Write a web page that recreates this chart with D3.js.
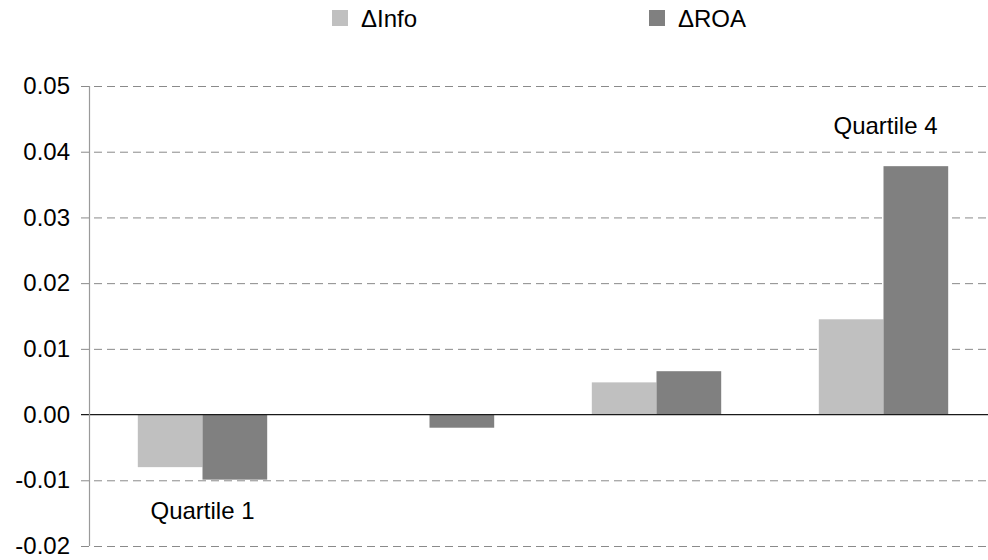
<!DOCTYPE html>
<html>
<head>
<meta charset="utf-8">
<script src="https://cdn.jsdelivr.net/npm/d3@7"></script>
<style>
  html, body { margin: 0; padding: 0; background: #fff; }
  svg { display: block; font-family: "Liberation Sans", Arial, sans-serif; }
</style>
</head>
<body>
<svg id="chart" width="988" height="560"></svg>
<script>
// Quartile groups and the two measured changes
const categories = ["Quartile 1", "Quartile 2", "Quartile 3", "Quartile 4"];
const seriesNames = ["ΔInfo", "ΔROA"];
const deltaInfo = [-0.0080, 0.0000, 0.0049, 0.0145];
const deltaROA = [-0.0099, -0.0020, 0.0066, 0.0378];
const yTicks = [-0.02, -0.01, 0.00, 0.01, 0.02, 0.03, 0.04, 0.05];
const seriesColors = ["#c0c0c0", "#808080"];

const svg = d3.select("#chart");
const margin = { left: 89, right: -9, top: 86, bottom: 14 };
const width = 988, height = 560;

const y = d3.scaleLinear()
  .domain([-0.02, 0.05])
  .range([height - margin.bottom, margin.top]);

const x = d3.scaleBand()
  .domain(categories)
  .range([margin.left, width - margin.right])
  .paddingInner(0.43)
  .paddingOuter(0.215);

const xs = d3.scaleBand()
  .domain(seriesNames)
  .range([0, x.bandwidth()]);

// Dashed horizontal gridlines with short outer ticks; labels use a plain hyphen
const yAxis = d3.axisLeft(y)
  .tickValues(yTicks)
  .tickSize(0)
  .tickFormat(d => d.toFixed(2))
  .tickPadding(11);

const gy = svg.append("g")
  .attr("transform", `translate(${margin.left - 8},0)`)
  .call(yAxis);
gy.select(".domain").remove();
gy.selectAll(".tick line")
  .attr("stroke", "#8a8a8a")
  .attr("stroke-width", 1)
  .attr("stroke-dasharray", "8,5")
  .attr("x1", 0)
  .attr("x2", width + 20);
gy.selectAll(".tick line").filter(d => d === 0).remove();
gy.selectAll(".tick text")
  .attr("font-size", 24)
  .attr("fill", "#000")
  .attr("font-family", "Liberation Sans, Arial, sans-serif");

// Bars
const rows = categories.map((c, i) => ({ cat: c, values: [deltaInfo[i], deltaROA[i]] }));
const groups = svg.append("g").selectAll("g")
  .data(rows)
  .join("g")
  .attr("transform", d => `translate(${x(d.cat)},0)`);

groups.selectAll("rect")
  .data(d => d.values.map((v, j) => ({ v, name: seriesNames[j], j })))
  .join("rect")
  .attr("x", d => xs(d.name))
  .attr("width", xs.bandwidth())
  .attr("y", d => y(Math.max(0, d.v)))
  .attr("height", d => Math.abs(y(d.v) - y(0)))
  .attr("fill", d => seriesColors[d.j]);

// Zero baseline
svg.append("line")
  .attr("x1", margin.left - 8)
  .attr("x2", width)
  .attr("y1", y(0))
  .attr("y2", y(0))
  .attr("stroke", "#1a1a1a")
  .attr("stroke-width", 1.3);

// Vertical axis line
svg.append("line")
  .attr("x1", margin.left + 0.5)
  .attr("x2", margin.left + 0.5)
  .attr("y1", y(0.05))
  .attr("y2", y(-0.02))
  .attr("stroke", "#9a9a9a")
  .attr("stroke-width", 1.2);

// Group annotations for the first and last quartile
svg.append("text")
  .attr("x", x(categories[0]) + x.bandwidth() / 2)
  .attr("y", y(-0.01) + 39)
  .attr("text-anchor", "middle")
  .attr("font-size", 24)
  .text(categories[0]);

svg.append("text")
  .attr("x", x(categories[3]) + x.bandwidth() / 2 + 2)
  .attr("y", y(0.04) - 18)
  .attr("text-anchor", "middle")
  .attr("font-size", 24)
  .text(categories[3]);

// Legend
const legendX = [332, 649];
const legend = svg.append("g").selectAll("g")
  .data(seriesNames)
  .join("g")
  .attr("transform", (d, i) => `translate(${legendX[i]},0)`);
legend.append("rect")
  .attr("x", 0).attr("y", 10)
  .attr("width", 16).attr("height", 16)
  .attr("fill", (d, i) => seriesColors[i]);
legend.append("text")
  .attr("x", 29).attr("y", 27)
  .attr("font-size", 24)
  .text(d => d);
</script>
</body>
</html>
